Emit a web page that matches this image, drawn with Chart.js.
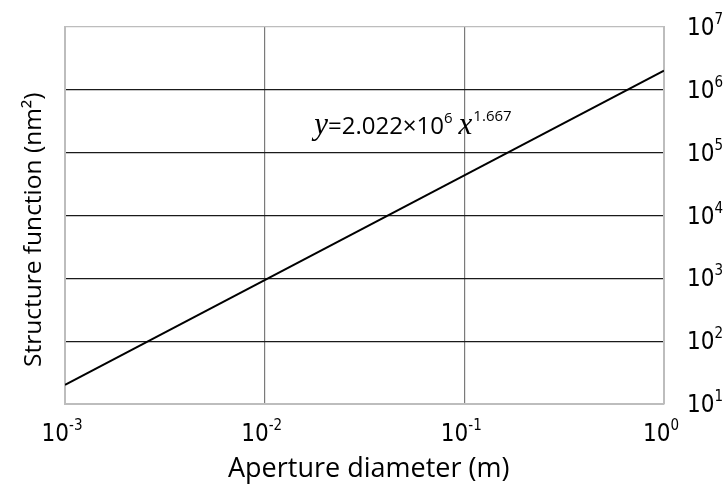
<!DOCTYPE html>
<html>
<head>
<meta charset="utf-8">
<script src="https://cdn.jsdelivr.net/npm/chart.js@4.4.1/dist/chart.umd.min.js"></script>
<style>
  html, body { margin: 0; padding: 0; background: #fff; }
  #wrap { width: 727px; height: 485px; }
</style>
</head>
<body>
<div id="wrap"><canvas id="grafico" width="727" height="485"></canvas></div>
<script>
// dados: reta do ajuste em escala log-log
const aberturas = [0.001, 1];
const estrutura = [20.22, 2022000];
const ticksX = [0.001, 0.01, 0.1, 1];
const expoentesX = ["-3", "-2", "-1", "0"];
const ticksY = [10, 100, 1000, 10000, 100000, 1000000, 10000000];
const expoentesY = ["1", "2", "3", "4", "5", "6", "7"];
const tituloX = "Aperture diameter (m)";
const tituloY = "Structure function (nm²)";
const formula = { x: 0.0177, y: 200000, coef: "=2.022×10", pot: "6", exp: "1.667" };

const fonteSans = "'Open Sans', 'Noto Sans', sans-serif";
const fonteTicks = "'Liberation Sans Narrow', 'DejaVu Sans Condensed', 'Liberation Sans', sans-serif";
const fonteSerif = "'Liberation Serif', 'Times New Roman', serif";

function corGrade(ctx, escuro) {
  const n = ctx.chart.scales[ctx.scale.id].ticks.length;
  return (ctx.index === 0 || ctx.index === n - 1) ? "#bdbdbd" : escuro;
}

// desenha "10" com expoente sobrescrito
function potencia(ctx, x, y, exp, alinhar) {
  ctx.font = "24px " + fonteTicks;
  const wBase = ctx.measureText("10").width;
  ctx.font = "15px " + fonteTicks;
  const wExp = ctx.measureText(exp).width;
  let x0 = x;
  if (alinhar === "center") x0 = x - (wBase + wExp) / 2;
  ctx.font = "24px " + fonteTicks;
  ctx.fillText("10", x0, y);
  ctx.font = "15px " + fonteTicks;
  ctx.fillText(exp, x0 + wBase, y - 11);
}

const rotulos = {
  id: "rotulos",
  afterDraw(chart) {
    const ctx = chart.ctx;
    const area = chart.chartArea;
    const sx = chart.scales.x, sy = chart.scales.y;
    ctx.save();
    ctx.fillStyle = "#000";
    ctx.textBaseline = "alphabetic";
    ctx.textAlign = "left";
    ticksX.forEach((v, i) => {
      potencia(ctx, sx.getPixelForValue(v) - 3, area.bottom + 37, expoentesX[i], "center");
    });
    ticksY.forEach((v, i) => {
      potencia(ctx, area.right + 23, sy.getPixelForValue(v) + 8, expoentesY[i], "left");
    });

    // título do eixo x
    ctx.font = "27px " + fonteSans;
    ctx.fillText(tituloX, 228, 477);

    // título do eixo y (vertical)
    ctx.save();
    ctx.translate(41, 367);
    ctx.rotate(-Math.PI / 2);
    ctx.font = "24.5px " + fonteSans;
    ctx.fillText(tituloY, 0, 0);
    ctx.restore();

    // equação do ajuste
    let px = sx.getPixelForValue(formula.x);
    const py = sy.getPixelForValue(formula.y);
    ctx.font = "italic 31px " + fonteSerif;
    ctx.fillText("y", px, py);
    px += ctx.measureText("y").width;
    ctx.font = "24px " + fonteSans;
    ctx.fillText(formula.coef, px, py);
    px += ctx.measureText(formula.coef).width;
    ctx.font = "15px " + fonteSans;
    ctx.fillText(formula.pot, px, py - 11);
    px += ctx.measureText(formula.pot).width + 6;
    ctx.font = "italic 31px " + fonteSerif;
    ctx.fillText("x", px, py);
    px += ctx.measureText("x").width + 1;
    ctx.font = "15px " + fonteSans;
    ctx.fillText(formula.exp, px, py - 13);
    ctx.restore();
  }
};

new Chart(document.getElementById("grafico"), {
  type: "line",
  data: {
    datasets: [{
      data: aberturas.map((a, i) => ({ x: a, y: estrutura[i] })),
      borderColor: "#000",
      borderWidth: 2,
      pointRadius: 0,
      tension: 0
    }]
  },
  options: {
    responsive: false,
    animation: false,
    events: [],
    layout: { padding: { top: 27, left: 0, right: 0, bottom: 0 } },
    plugins: { legend: { display: false }, tooltip: { enabled: false } },
    scales: {
      x: {
        type: "logarithmic",
        min: 0.001, max: 1,
        afterBuildTicks: s => { s.ticks = ticksX.map(v => ({ value: v })); },
        afterFit: s => { s.height = 81; },
        ticks: { display: false },
        grid: { color: c => corGrade(c, "#7a7a7a"), lineWidth: 1.2, drawTicks: false },
        border: { color: "#bdbdbd", width: 2 }
      },
      y: {
        type: "logarithmic",
        position: "right",
        min: 10, max: 10000000,
        afterBuildTicks: s => { s.ticks = ticksY.map(v => ({ value: v })); },
        afterFit: s => { s.width = 63; },
        ticks: { display: false },
        grid: { color: c => corGrade(c, "#1a1a1a"), lineWidth: 1.2, drawTicks: false },
        border: { color: "#bdbdbd", width: 2 }
      },
      yEsq: {
        type: "linear",
        position: "left",
        display: true,
        afterFit: s => { s.width = 65; },
        ticks: { display: false },
        grid: { display: false, drawTicks: false },
        border: { color: "#bdbdbd", width: 2 }
      }
    }
  },
  plugins: [rotulos]
});
</script>
</body>
</html>
